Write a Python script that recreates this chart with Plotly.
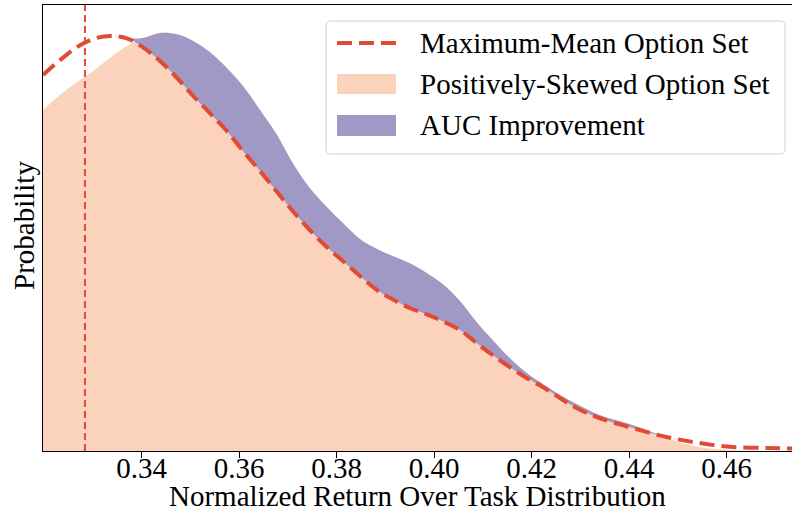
import numpy as np
import plotly.graph_objects as go

# ---- data ----
x_vals = [0.3198, 0.3233, 0.3268, 0.3301, 0.3335, 0.3370, 0.3403, 0.3438, 0.3473, 0.3506,
          0.3540, 0.3575, 0.3608, 0.3643, 0.3678, 0.3710, 0.3745, 0.3780, 0.3813, 0.3848,
          0.3883, 0.3915, 0.3950, 0.3985, 0.4018, 0.4053, 0.4087, 0.4120, 0.4155, 0.4190,
          0.4223, 0.4258, 0.4292, 0.4339, 0.4407, 0.4477, 0.4544, 0.4612, 0.4682, 0.4734]
max_mean = [11.28, 11.73, 12.12, 12.36, 12.45, 12.38, 12.11, 11.70, 11.19, 10.65,
            10.14, 9.60, 9.00, 8.40, 7.77, 7.20, 6.63, 6.12, 5.70, 5.25,
            4.83, 4.55, 4.29, 4.10, 3.89, 3.63, 3.24, 2.88, 2.52, 2.19,
            1.92, 1.59, 1.29, 0.99, 0.69, 0.42, 0.24, 0.12, 0.09, 0.075]
pos_skewed = [10.23, 10.68, 11.07, 11.40, 11.79, 12.15, 12.39, 12.54, 12.50, 12.30,
              11.97, 11.49, 10.95, 10.23, 9.48, 8.64, 7.89, 7.32, 6.84, 6.36,
              6.06, 5.85, 5.63, 5.34, 5.00, 4.50, 3.87, 3.33, 2.79, 2.34,
              2.01, 1.68, 1.41, 1.08, 0.78, 0.39, 0.12, 0.03, 0.00, 0.00]
max_mean_marker = 0.3284
x_ticks = [0.34, 0.36, 0.38, 0.40, 0.42, 0.44, 0.46]
x_range = [0.3198, 0.4734]
y_max = 13.38
legend_labels = ["Maximum-Mean Option Set", "Positively-Skewed Option Set", "AUC Improvement"]
x_title = "Normalized Return Over Task Distribution"
y_title = "Probability"

RED = "#E34A33"
PEACH = "#FBD2BB"
PURPLE = "#A099C6"
FONT = "Liberation Serif"
FS = 29

W, H = 792, 512
ML, MR, MT, MB = 43, 0, 5, 61

def pxx(px):
    return (px - ML) / (W - ML - MR)

def pxy(py):
    return (H - MB - py) / (H - MT - MB)

upper = np.maximum(np.array(pos_skewed), np.array(max_mean))

fig = go.Figure()
fig.add_trace(go.Scatter(x=x_vals, y=pos_skewed, mode="lines", line=dict(width=0, shape="spline"),
                         fill="tozeroy", fillcolor=PEACH, showlegend=False, hoverinfo="skip"))
fig.add_trace(go.Scatter(x=x_vals, y=max_mean, mode="lines", line=dict(width=0, shape="spline"),
                         showlegend=False, hoverinfo="skip"))
fig.add_trace(go.Scatter(x=x_vals, y=upper, mode="lines", line=dict(width=0, shape="spline"),
                         fill="tonexty", fillcolor=PURPLE, showlegend=False, hoverinfo="skip"))
fig.add_trace(go.Scatter(x=x_vals, y=max_mean, mode="lines",
                         line=dict(color=RED, width=4, dash="15px,7px", shape="spline"),
                         showlegend=False))

fig.add_shape(type="line", xref="x", yref="paper", x0=max_mean_marker, x1=max_mean_marker,
              y0=0, y1=1, line=dict(color=RED, width=2, dash="7px,4px"), layer="above")

# legend box (drawn manually to match matplotlib style)
x0, x1, y0, y1 = pxx(326), pxx(785), pxy(154), pxy(21)
rx, ry = 5 / (W - ML - MR), 5 / (H - MT - MB)
path = (f"M{x0+rx},{y0} L{x1-rx},{y0} Q{x1},{y0} {x1},{y0+ry} L{x1},{y1-ry} Q{x1},{y1} {x1-rx},{y1} "
        f"L{x0+rx},{y1} Q{x0},{y1} {x0},{y1-ry} L{x0},{y0+ry} Q{x0},{y0} {x0+rx},{y0} Z")
fig.add_shape(type="path", xref="paper", yref="paper", path=path,
              fillcolor="rgba(255,255,255,0.85)", line=dict(color="#D0D0D0", width=1), layer="above")
fig.add_shape(type="line", xref="paper", yref="paper", x0=pxx(337), x1=pxx(396), y0=pxy(43), y1=pxy(43),
              line=dict(color=RED, width=4, dash="15px,7px"), layer="above")
fig.add_shape(type="rect", xref="paper", yref="paper", x0=pxx(337), x1=pxx(396), y0=pxy(94), y1=pxy(74),
              fillcolor=PEACH, line=dict(width=0), layer="above")
fig.add_shape(type="rect", xref="paper", yref="paper", x0=pxx(337), x1=pxx(396), y0=pxy(136), y1=pxy(115),
              fillcolor=PURPLE, line=dict(width=0), layer="above")
for lab, py in zip(legend_labels, [43, 84, 125]):
    fig.add_annotation(x=pxx(418), y=pxy(py), xref="paper", yref="paper", text=lab, showarrow=False,
                       xanchor="left", yanchor="middle", font=dict(family=FONT, size=FS, color="black"))

# axis titles
fig.add_annotation(x=pxx(417), y=pxy(496), xref="paper", yref="paper", text=x_title, showarrow=False,
                   xanchor="center", yanchor="middle", font=dict(family=FONT, size=FS, color="black"))
fig.add_annotation(x=pxx(24), y=pxy(226), xref="paper", yref="paper", text=y_title, showarrow=False,
                   textangle=-90, xanchor="center", yanchor="middle",
                   font=dict(family=FONT, size=FS, color="black"))

fig.update_layout(
    width=W, height=H, margin=dict(l=ML, r=MR, t=MT, b=MB, autoexpand=False),
    paper_bgcolor="white", plot_bgcolor="white",
    font=dict(family=FONT, size=FS, color="black"),
    showlegend=False,
)
fig.update_xaxes(range=x_range, tickvals=x_ticks, ticktext=[f"{v:.2f}" for v in x_ticks],
                 ticks="outside", ticklen=6, tickcolor="black", showgrid=False, zeroline=False,
                 showline=True, linecolor="black", linewidth=1, mirror=True, automargin=False,
                 ticklabelstandoff=-15, tickfont=dict(family=FONT, size=FS))
fig.update_yaxes(range=[0, y_max], showticklabels=False, ticks="", showgrid=False, zeroline=False,
                 showline=True, linecolor="black", linewidth=1, mirror=True, automargin=False)

fig.write_html("out.html", config={"displayModeBar": False},
               post_script="document.body.style.margin='0';document.body.style.overflow='hidden';")
